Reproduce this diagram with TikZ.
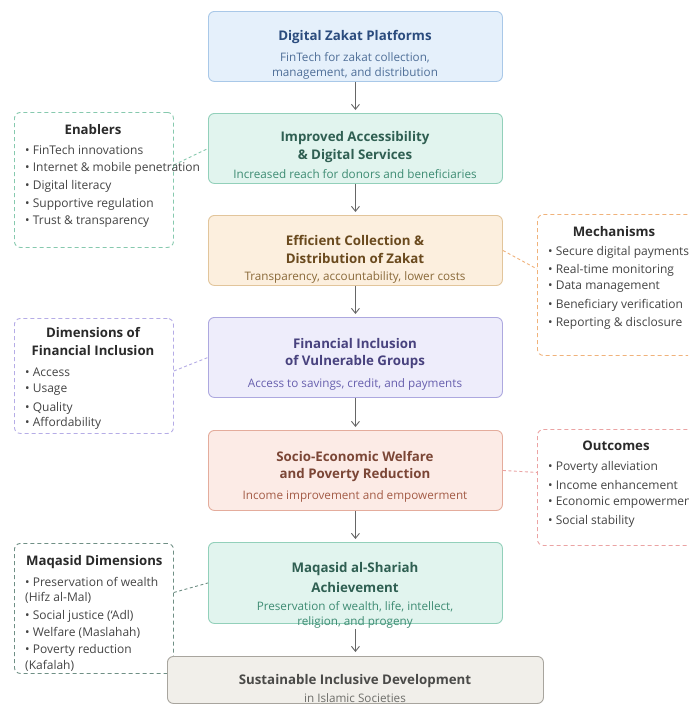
\documentclass[tikz,border=0pt]{standalone}
\usepackage{fontspec}
\setmainfont{Open Sans}
\usetikzlibrary{arrows.meta}
\definecolor{bAf}{HTML}{E5F0FB}\definecolor{bAd}{HTML}{A9C8E8}\definecolor{bAt}{HTML}{2B4C7E}\definecolor{bAs}{HTML}{4F6F98}
\definecolor{bBf}{HTML}{E1F4EE}\definecolor{bBd}{HTML}{92D0BA}\definecolor{bBt}{HTML}{2F5F52}\definecolor{bBs}{HTML}{3E8C73}
\definecolor{bCf}{HTML}{FCEFDE}\definecolor{bCd}{HTML}{E2C59B}\definecolor{bCt}{HTML}{6A4A1E}\definecolor{bCs}{HTML}{8A6A3A}
\definecolor{bDf}{HTML}{EEEDFB}\definecolor{bDd}{HTML}{ADA8DF}\definecolor{bDt}{HTML}{48427E}\definecolor{bDs}{HTML}{6860AE}
\definecolor{bEf}{HTML}{FCEBE6}\definecolor{bEd}{HTML}{E4AC9C}\definecolor{bEt}{HTML}{7B4636}\definecolor{bEs}{HTML}{A45C47}
\definecolor{bGf}{HTML}{F1EFEA}\definecolor{bGd}{HTML}{A8A59E}\definecolor{bGt}{HTML}{4A4A48}\definecolor{bGs}{HTML}{6E6E6A}
\definecolor{dEn}{HTML}{86C9AE}\definecolor{dMe}{HTML}{F0B27A}\definecolor{dDi}{HTML}{B5ACE6}\definecolor{dOu}{HTML}{EBA3A3}\definecolor{dMq}{HTML}{6F8F85}
\definecolor{sideT}{HTML}{2A2A2A}\definecolor{sideI}{HTML}{444444}\definecolor{arrC}{HTML}{666666}
\tikzset{
  mbox/.style args={#1/#2}{rounded corners=6pt, draw=#1, fill=#2, line width=0.9pt, inner sep=0pt, anchor=north west},
  sbox/.style={rounded corners=6pt, draw=#1, fill=white, dashed, dash pattern=on 4pt off 3pt, line width=0.9pt, inner sep=0pt, anchor=north west},
  ttl/.style={font=\bfseries\fontsize{13.3}{16}\selectfont, inner sep=0pt, text=#1},
  sub/.style={font=\fontsize{11.7}{14}\selectfont, inner sep=0pt, text=#1},
  stitle/.style={font=\bfseries\fontsize{13.2}{16}\selectfont, inner sep=0pt, text=sideT},
  item/.style={font=\fontsize{12}{14}\selectfont, inner sep=0pt, text=sideI, anchor=west},
  arr/.style={draw=arrC, line width=0.9pt, -{Straight Barb[length=5pt,width=8pt]}},
  link/.style={draw=#1, dashed, dash pattern=on 3pt off 2.5pt, line width=0.9pt},
}
\begin{document}
\begin{tikzpicture}[x=1pt,y=-1pt]
\useasboundingbox (0,0) rectangle (688,704);
\fill[white] (0,0) rectangle (688,704);
\clip (0,0) rectangle (688,704);
% side boxes
\node[sbox=dEn, minimum width=159pt, minimum height=135pt] (enab) at (14,112) {};
\node[sbox=dMe, minimum width=170pt, minimum height=141pt] (mech) at (537,214) {};
\node[sbox=dDi, minimum width=159pt, minimum height=115pt] (dims) at (14,318) {};
\node[sbox=dOu, minimum width=170pt, minimum height=116pt] (outc) at (537,429) {};
\node[sbox=dMq, minimum width=159pt, minimum height=130pt] (maqd) at (14,543) {};
% main boxes
\node[mbox=bAd/bAf, minimum width=294pt, minimum height=70pt] (b1) at (208,11) {};
\node[mbox=bBd/bBf, minimum width=294pt, minimum height=70pt] (b2) at (208,113) {};
\node[mbox=bCd/bCf, minimum width=294pt, minimum height=70pt] (b3) at (208,215) {};
\node[mbox=bDd/bDf, minimum width=294pt, minimum height=80pt] (b4) at (208,317) {};
\node[mbox=bEd/bEf, minimum width=294pt, minimum height=80pt] (b5) at (208,430) {};
\node[mbox=bBd/bBf, minimum width=294pt, minimum height=81pt] (b6) at (208,542) {};
\node[mbox=bGd/bGf, minimum width=376pt, minimum height=47pt] (b7) at (167,656) {};
% arrows
\draw[arr] (b1.south) -- ([yshift=3pt]b2.north);
\draw[arr] (b2.south) -- ([yshift=3pt]b3.north);
\draw[arr] (b3.south) -- ([yshift=3pt]b4.north);
\draw[arr] (b4.south) -- ([yshift=3pt]b5.north);
\draw[arr] (b5.south) -- ([yshift=3pt]b6.north);
\draw[arr] ([yshift=-5pt]b6.south) -- ([yshift=4pt]b7.north);
% dashed links
\draw[link=dEn] ([yshift=15pt]enab.east) -- ([yshift=0pt]b2.west);
\draw[link=dMe] ([yshift=0pt]b3.east) -- ([yshift=16pt]mech.west);
\draw[link=dDi] ([yshift=5pt]dims.east) -- ([yshift=0pt]b4.west);
\draw[link=dOu] ([yshift=0pt]b5.east) -- ([yshift=15pt]outc.west);
\draw[link=dMq] ([yshift=16pt]maqd.east) -- ([yshift=0pt]b6.west);
% main texts
\node[ttl=bAt] (t1a) at (355,37) {Digital Zakat Platforms};
\node[sub=bAs] (t1b) at (355,58) {FinTech for zakat collection,};
\node[sub=bAs] (t1c) at (355,73) {management, and distribution};
\node[ttl=bBt] (t2a) at (355,138) {Improved Accessibility};
\node[ttl=bBt] (t2b) at (355,156) {\& Digital Services};
\node[sub=bBs] (t2c) at (355,174) {Increased reach for donors and beneficiaries};
\node[ttl=bCt] (t3a) at (355,240) {Efficient Collection \&};
\node[ttl=bCt] (t3b) at (355,258) {Distribution of Zakat};
\node[sub=bCs] (t3c) at (355,277) {Transparency, accountability, lower costs};
\node[ttl=bDt] (t4a) at (355,344) {Financial Inclusion};
\node[ttl=bDt] (t4b) at (355,362) {of Vulnerable Groups};
\node[sub=bDs] (t4c) at (355,384) {Access to savings, credit, and payments};
\node[ttl=bEt] (t5a) at (355,456) {Socio-Economic Welfare};
\node[ttl=bEt] (t5b) at (355,475) {and Poverty Reduction};
\node[sub=bEs] (t5c) at (355,496) {Income improvement and empowerment};
\node[ttl=bBt] (t6a) at (355,569) {Maqasid al-Shariah};
\node[ttl=bBt] (t6b) at (355,588) {Achievement};
\node[sub=bBs] (t6c) at (355,607) {Preservation of wealth, life, intellect,};
\node[sub=bBs] (t6d) at (355,622) {religion, and progeny};
\node[ttl=bGt] (t7a) at (355,681) {Sustainable Inclusive Development};
\node[sub=bGs] (t7b) at (355,698) {in Islamic Societies};
% Enablers
\node[stitle] (enT) at (93,130) {Enablers};
\node[item] (en1) at (25,150) {• FinTech innovations};
\node[item] (en2) at (25,168) {• Internet \& mobile penetration};
\node[item] (en3) at (25,186) {• Digital literacy};
\node[item] (en4) at (25,204) {• Supportive regulation};
\node[item] (en5) at (25,222) {• Trust \& transparency};
% Mechanisms
\node[stitle] (meT) at (614,232) {Mechanisms};
\node[item] (me1) at (548,252) {• Secure digital payments};
\node[item] (me2) at (548,270) {• Real-time monitoring};
\node[item] (me3) at (548,287) {• Data management};
\node[item] (me4) at (548,305) {• Beneficiary verification};
\node[item] (me5) at (548,323) {• Reporting \& disclosure};
% Dimensions
\node[stitle] (diT1) at (93,333) {Dimensions of};
\node[stitle] (diT2) at (93,351) {Financial Inclusion};
\node[item] (di1) at (25,372) {• Access};
\node[item] (di2) at (25,390) {• Usage};
\node[item] (di3) at (25,408) {• Quality};
\node[item] (di4) at (25,423) {• Affordability};
% Outcomes
\node[stitle] (ouT) at (616,446) {Outcomes};
\node[item] (ou1) at (548,467) {• Poverty alleviation};
\node[item] (ou2) at (548,485) {• Income enhancement};
\node[item] (ou3) at (548,503) {• Economic empowerment};
\node[item] (ou4) at (548,521) {• Social stability};
% Maqasid dimensions
\node[stitle, anchor=west] (mqT) at (26,562) {Maqasid Dimensions};
\node[item] (mq1) at (25,582) {• Preservation of wealth};
\node[item] (mq2) at (25,598) {(Hifz al-Mal)};
\node[item] (mq3) at (25,616) {• Social justice (‘Adl)};
\node[item] (mq4) at (25,633) {• Welfare (Maslahah)};
\node[item] (mq5) at (25,650) {• Poverty reduction};
\node[item] (mq6) at (25,666) {(Kafalah)};
\end{tikzpicture}
\end{document}
